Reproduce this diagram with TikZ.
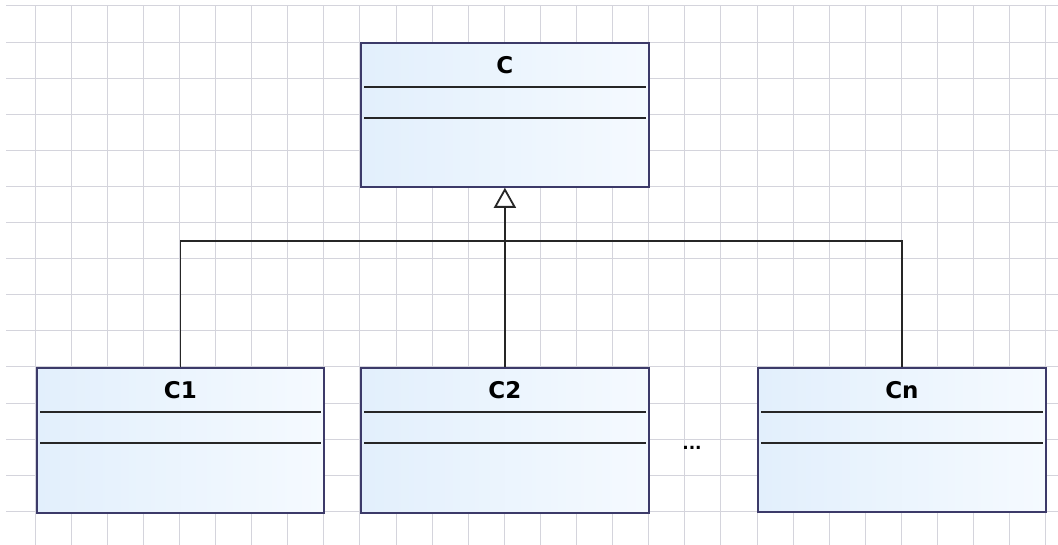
\documentclass[tikz,border=0pt]{standalone}
\usepackage{fontspec}
\setmainfont{DejaVu Sans}
\usetikzlibrary{arrows.meta}
\definecolor{gridc}{RGB}{212,212,220}
\definecolor{boxborder}{RGB}{60,58,105}
\definecolor{boxleft}{RGB}{226,239,252}
\definecolor{boxright}{RGB}{245,250,255}
\tikzset{
  classbox/.style={draw=boxborder, line width=1.8pt, left color=boxleft, right color=boxright,
    minimum height=144pt, inner sep=0pt, anchor=north west},
  sepline/.style={line width=1.5pt, black!85},
  cname/.style={font=\bfseries\fontsize{23}{23}\selectfont, anchor=base, inner sep=0pt},
  conn/.style={line width=1.8pt, black!85},
  gridline/.style={line width=1pt, gridc},
}
\begin{document}
\begin{tikzpicture}[x=1pt,y=-1pt]
\useasboundingbox (0,0) rectangle (1058,545);
\fill[white] (0,0) rectangle (1058,545);
% grid
\foreach \k in {0,...,28}{
  \pgfmathsetmacro{\gx}{35+36.1*\k}
  \draw[gridline] (\gx,6) -- (\gx,545);
}
\foreach \k in {0,...,14}{
  \pgfmathsetmacro{\gy}{6+36.1*\k}
  \draw[gridline] (6,\gy) -- (1058,\gy);
}
% classes
\node[classbox, minimum width=288pt] (C) at (360,42) {};
\node[classbox, minimum width=287pt, minimum height=145pt] (C1) at (36,367) {};
\node[classbox, minimum width=288pt, minimum height=145pt] (C2) at (360,367) {};
\node[classbox, minimum width=288pt] (Cn) at (757,367) {};
\foreach \n in {C,C1,C2,Cn}{
  \draw[sepline] ([xshift=4pt,yshift=-45pt]\n.north west) -- ([xshift=-4pt,yshift=-45pt]\n.north east);
  \draw[sepline] ([xshift=4pt,yshift=-76pt]\n.north west) -- ([xshift=-4pt,yshift=-76pt]\n.north east);
}
\node[cname] (tC) at ([yshift=-32pt]C.north) {C};
\node[cname] (tC1) at ([yshift=-32pt]C1.north) {C1};
\node[cname] (tC2) at ([yshift=-32pt]C2.north) {C2};
\node[cname] (tCn) at ([yshift=-32pt]Cn.north) {Cn};
\node[font=\bfseries\fontsize{17}{17}\selectfont, anchor=base, inner sep=0pt] (dots) at (692,449) {...};
% connectors
\coordinate (j) at (504,241);
\draw[conn] (C1.north) |- (j) -| (Cn.north);
\draw[conn, -{Triangle[length=20pt,width=22pt,fill=white,line width=1.8pt]}] (C2.north) -- (C.south);
\end{tikzpicture}
\end{document}
